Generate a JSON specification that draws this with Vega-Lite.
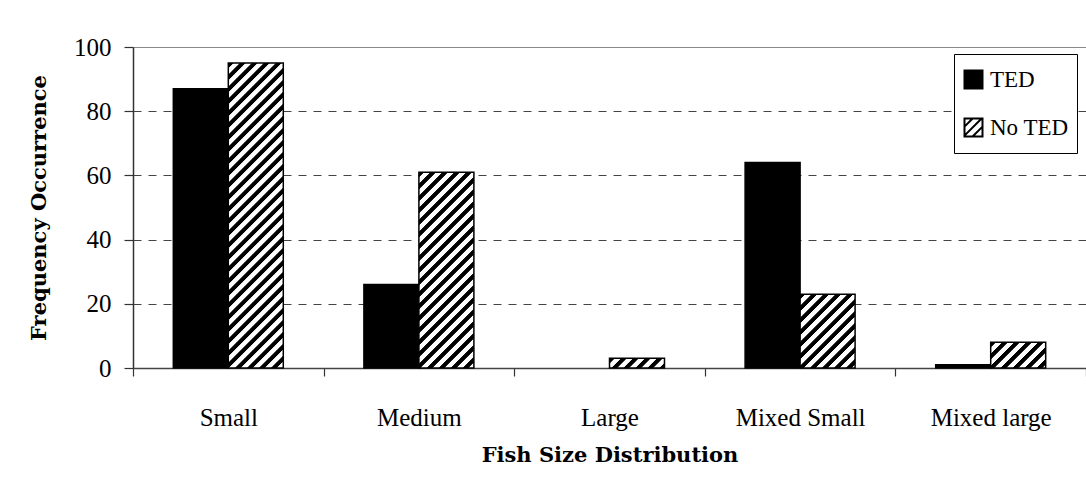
{
  "$schema": "https://vega.github.io/schema/vega-lite/v6.json",
  "width": 953,
  "height": 321,
  "autosize": {"type": "none"},
  "padding": {"left": 133, "top": 47, "right": 0, "bottom": 120},
  "background": "white",
  "config": {"view": {"stroke": null}, "font": "Liberation Serif"},
  "data": {
    "values": [
      {"size": "Small", "group": "TED", "count": 87},
      {"size": "Small", "group": "No TED", "count": 95},
      {"size": "Medium", "group": "TED", "count": 26},
      {"size": "Medium", "group": "No TED", "count": 61},
      {"size": "Large", "group": "TED", "count": 0},
      {"size": "Large", "group": "No TED", "count": 3},
      {"size": "Mixed Small", "group": "TED", "count": 64},
      {"size": "Mixed Small", "group": "No TED", "count": 23},
      {"size": "Mixed large", "group": "TED", "count": 1},
      {"size": "Mixed large", "group": "No TED", "count": 8}
    ]
  },
  "mark": {"type": "bar", "strokeWidth": 1.5},
  "encoding": {
    "x": {
      "field": "size",
      "type": "nominal",
      "sort": ["Small", "Medium", "Large", "Mixed Small", "Mixed large"],
      "scale": {"paddingInner": 0, "paddingOuter": 0},
      "axis": {
        "title": "Fish Size Distribution",
        "tickBand": "extent",
        "tickSize": 8,
        "tickColor": "#333",
        "tickWidth": 1.2,
        "domainColor": "#444",
        "domainWidth": 1.5,
        "labelAngle": 0,
        "labelFont": "Liberation Serif",
        "labelFontSize": 25,
        "labelColor": "#000",
        "labelPadding": 29,
        "titleFont": "DejaVu Serif",
        "titleFontSize": 21,
        "titleFontWeight": "bold",
        "titleColor": "#000",
        "titlePadding": 14
      }
    },
    "xOffset": {
      "field": "group",
      "type": "nominal",
      "sort": ["TED", "No TED"],
      "scale": {"paddingInner": 0, "paddingOuter": 0.733}
    },
    "y": {
      "field": "count",
      "type": "quantitative",
      "scale": {"domain": [0, 100]},
      "axis": {
        "title": "Frequency Occurrence",
        "values": [0, 20, 40, 60, 80, 100],
        "grid": true,
        "gridDash": {"condition": {"test": "datum.value === 100", "value": []}, "value": [8, 7]},
        "gridColor": {"condition": {"test": "datum.value === 100", "value": "#888"}, "value": "#444"},
        "gridWidth": 1,
        "domainColor": "#333",
        "domainWidth": 1.5,
        "tickColor": "#333",
        "tickSize": 9,
        "tickWidth": 1.2,
        "labelFont": "Liberation Serif",
        "labelFontSize": 25,
        "labelColor": "#000",
        "labelPadding": 13,
        "titleFont": "DejaVu Serif",
        "titleFontSize": 21,
        "titleFontWeight": "bold",
        "titleColor": "#000",
        "titlePadding": 24
      }
    },
    "stroke": {"condition": {"test": "datum.count === 0", "value": null}, "value": "#000"},
    "fill": {
      "condition": [
        {
          "test": "datum.group === 'No TED' && datum.size === 'Small'",
          "value": {"gradient": "linear", "x1": 0, "y1": 0, "x2": 0.27494, "y2": 1.52444, "stops": [
            {"offset": 0, "color": "#000"}, {"offset": 0.01, "color": "#000"}, {"offset": 0.012, "color": "#fff"}, {"offset": 0.023, "color": "#fff"},
            {"offset": 0.025, "color": "#000"}, {"offset": 0.035, "color": "#000"}, {"offset": 0.037, "color": "#fff"}, {"offset": 0.048, "color": "#fff"},
            {"offset": 0.05, "color": "#000"}, {"offset": 0.06, "color": "#000"}, {"offset": 0.062, "color": "#fff"}, {"offset": 0.073, "color": "#fff"},
            {"offset": 0.075, "color": "#000"}, {"offset": 0.085, "color": "#000"}, {"offset": 0.087, "color": "#fff"}, {"offset": 0.098, "color": "#fff"},
            {"offset": 0.1, "color": "#000"}, {"offset": 0.11, "color": "#000"}, {"offset": 0.112, "color": "#fff"}, {"offset": 0.123, "color": "#fff"},
            {"offset": 0.125, "color": "#000"}, {"offset": 0.135, "color": "#000"}, {"offset": 0.137, "color": "#fff"}, {"offset": 0.148, "color": "#fff"},
            {"offset": 0.15, "color": "#000"}, {"offset": 0.16, "color": "#000"}, {"offset": 0.162, "color": "#fff"}, {"offset": 0.173, "color": "#fff"},
            {"offset": 0.175, "color": "#000"}, {"offset": 0.185, "color": "#000"}, {"offset": 0.187, "color": "#fff"}, {"offset": 0.198, "color": "#fff"},
            {"offset": 0.2, "color": "#000"}, {"offset": 0.21, "color": "#000"}, {"offset": 0.212, "color": "#fff"}, {"offset": 0.223, "color": "#fff"},
            {"offset": 0.225, "color": "#000"}, {"offset": 0.235, "color": "#000"}, {"offset": 0.237, "color": "#fff"}, {"offset": 0.248, "color": "#fff"},
            {"offset": 0.25, "color": "#000"}, {"offset": 0.26, "color": "#000"}, {"offset": 0.262, "color": "#fff"}, {"offset": 0.273, "color": "#fff"},
            {"offset": 0.275, "color": "#000"}, {"offset": 0.285, "color": "#000"}, {"offset": 0.287, "color": "#fff"}, {"offset": 0.298, "color": "#fff"},
            {"offset": 0.3, "color": "#000"}, {"offset": 0.31, "color": "#000"}, {"offset": 0.312, "color": "#fff"}, {"offset": 0.323, "color": "#fff"},
            {"offset": 0.325, "color": "#000"}, {"offset": 0.335, "color": "#000"}, {"offset": 0.337, "color": "#fff"}, {"offset": 0.348, "color": "#fff"},
            {"offset": 0.35, "color": "#000"}, {"offset": 0.36, "color": "#000"}, {"offset": 0.362, "color": "#fff"}, {"offset": 0.373, "color": "#fff"},
            {"offset": 0.375, "color": "#000"}, {"offset": 0.385, "color": "#000"}, {"offset": 0.387, "color": "#fff"}, {"offset": 0.398, "color": "#fff"},
            {"offset": 0.4, "color": "#000"}, {"offset": 0.41, "color": "#000"}, {"offset": 0.412, "color": "#fff"}, {"offset": 0.423, "color": "#fff"},
            {"offset": 0.425, "color": "#000"}, {"offset": 0.435, "color": "#000"}, {"offset": 0.437, "color": "#fff"}, {"offset": 0.448, "color": "#fff"},
            {"offset": 0.45, "color": "#000"}, {"offset": 0.46, "color": "#000"}, {"offset": 0.462, "color": "#fff"}, {"offset": 0.473, "color": "#fff"},
            {"offset": 0.475, "color": "#000"}, {"offset": 0.485, "color": "#000"}, {"offset": 0.487, "color": "#fff"}, {"offset": 0.498, "color": "#fff"},
            {"offset": 0.5, "color": "#000"}, {"offset": 0.51, "color": "#000"}, {"offset": 0.512, "color": "#fff"}, {"offset": 0.523, "color": "#fff"},
            {"offset": 0.525, "color": "#000"}, {"offset": 0.535, "color": "#000"}, {"offset": 0.537, "color": "#fff"}, {"offset": 0.548, "color": "#fff"},
            {"offset": 0.55, "color": "#000"}, {"offset": 0.56, "color": "#000"}, {"offset": 0.562, "color": "#fff"}, {"offset": 0.573, "color": "#fff"},
            {"offset": 0.575, "color": "#000"}, {"offset": 0.585, "color": "#000"}, {"offset": 0.587, "color": "#fff"}, {"offset": 0.598, "color": "#fff"},
            {"offset": 0.6, "color": "#000"}, {"offset": 0.61, "color": "#000"}, {"offset": 0.612, "color": "#fff"}, {"offset": 0.623, "color": "#fff"},
            {"offset": 0.625, "color": "#000"}, {"offset": 0.635, "color": "#000"}, {"offset": 0.637, "color": "#fff"}, {"offset": 0.648, "color": "#fff"},
            {"offset": 0.65, "color": "#000"}, {"offset": 0.66, "color": "#000"}, {"offset": 0.662, "color": "#fff"}, {"offset": 0.673, "color": "#fff"},
            {"offset": 0.675, "color": "#000"}, {"offset": 0.685, "color": "#000"}, {"offset": 0.687, "color": "#fff"}, {"offset": 0.698, "color": "#fff"},
            {"offset": 0.7, "color": "#000"}, {"offset": 0.71, "color": "#000"}, {"offset": 0.712, "color": "#fff"}, {"offset": 0.723, "color": "#fff"},
            {"offset": 0.725, "color": "#000"}, {"offset": 0.735, "color": "#000"}, {"offset": 0.737, "color": "#fff"}, {"offset": 0.748, "color": "#fff"}
          ]}
        },
        {
          "test": "datum.group === 'No TED' && datum.size === 'Medium'",
          "value": {"gradient": "linear", "x1": 0, "y1": 0, "x2": 0.6382, "y2": 2.2721, "stops": [
            {"offset": 0, "color": "#000"}, {"offset": 0.01, "color": "#000"}, {"offset": 0.012, "color": "#fff"}, {"offset": 0.023, "color": "#fff"},
            {"offset": 0.025, "color": "#000"}, {"offset": 0.035, "color": "#000"}, {"offset": 0.037, "color": "#fff"}, {"offset": 0.048, "color": "#fff"},
            {"offset": 0.05, "color": "#000"}, {"offset": 0.06, "color": "#000"}, {"offset": 0.062, "color": "#fff"}, {"offset": 0.073, "color": "#fff"},
            {"offset": 0.075, "color": "#000"}, {"offset": 0.085, "color": "#000"}, {"offset": 0.087, "color": "#fff"}, {"offset": 0.098, "color": "#fff"},
            {"offset": 0.1, "color": "#000"}, {"offset": 0.11, "color": "#000"}, {"offset": 0.112, "color": "#fff"}, {"offset": 0.123, "color": "#fff"},
            {"offset": 0.125, "color": "#000"}, {"offset": 0.135, "color": "#000"}, {"offset": 0.137, "color": "#fff"}, {"offset": 0.148, "color": "#fff"},
            {"offset": 0.15, "color": "#000"}, {"offset": 0.16, "color": "#000"}, {"offset": 0.162, "color": "#fff"}, {"offset": 0.173, "color": "#fff"},
            {"offset": 0.175, "color": "#000"}, {"offset": 0.185, "color": "#000"}, {"offset": 0.187, "color": "#fff"}, {"offset": 0.198, "color": "#fff"},
            {"offset": 0.2, "color": "#000"}, {"offset": 0.21, "color": "#000"}, {"offset": 0.212, "color": "#fff"}, {"offset": 0.223, "color": "#fff"},
            {"offset": 0.225, "color": "#000"}, {"offset": 0.235, "color": "#000"}, {"offset": 0.237, "color": "#fff"}, {"offset": 0.248, "color": "#fff"},
            {"offset": 0.25, "color": "#000"}, {"offset": 0.26, "color": "#000"}, {"offset": 0.262, "color": "#fff"}, {"offset": 0.273, "color": "#fff"},
            {"offset": 0.275, "color": "#000"}, {"offset": 0.285, "color": "#000"}, {"offset": 0.287, "color": "#fff"}, {"offset": 0.298, "color": "#fff"},
            {"offset": 0.3, "color": "#000"}, {"offset": 0.31, "color": "#000"}, {"offset": 0.312, "color": "#fff"}, {"offset": 0.323, "color": "#fff"},
            {"offset": 0.325, "color": "#000"}, {"offset": 0.335, "color": "#000"}, {"offset": 0.337, "color": "#fff"}, {"offset": 0.348, "color": "#fff"},
            {"offset": 0.35, "color": "#000"}, {"offset": 0.36, "color": "#000"}, {"offset": 0.362, "color": "#fff"}, {"offset": 0.373, "color": "#fff"},
            {"offset": 0.375, "color": "#000"}, {"offset": 0.385, "color": "#000"}, {"offset": 0.387, "color": "#fff"}, {"offset": 0.398, "color": "#fff"},
            {"offset": 0.4, "color": "#000"}, {"offset": 0.41, "color": "#000"}, {"offset": 0.412, "color": "#fff"}, {"offset": 0.423, "color": "#fff"},
            {"offset": 0.425, "color": "#000"}, {"offset": 0.435, "color": "#000"}, {"offset": 0.437, "color": "#fff"}, {"offset": 0.448, "color": "#fff"},
            {"offset": 0.45, "color": "#000"}, {"offset": 0.46, "color": "#000"}, {"offset": 0.462, "color": "#fff"}, {"offset": 0.473, "color": "#fff"},
            {"offset": 0.475, "color": "#000"}, {"offset": 0.485, "color": "#000"}, {"offset": 0.487, "color": "#fff"}, {"offset": 0.498, "color": "#fff"},
            {"offset": 0.5, "color": "#000"}, {"offset": 0.51, "color": "#000"}, {"offset": 0.512, "color": "#fff"}, {"offset": 0.523, "color": "#fff"}
          ]}
        },
        {
          "test": "datum.group === 'No TED' && datum.size === 'Large'",
          "value": {"gradient": "linear", "x1": 0, "y1": 0, "x2": 8.4676, "y2": 1.48262, "stops": [
            {"offset": 0, "color": "#000"}, {"offset": 0.01, "color": "#000"}, {"offset": 0.012, "color": "#fff"}, {"offset": 0.023, "color": "#fff"},
            {"offset": 0.025, "color": "#000"}, {"offset": 0.035, "color": "#000"}, {"offset": 0.037, "color": "#fff"}, {"offset": 0.048, "color": "#fff"},
            {"offset": 0.05, "color": "#000"}, {"offset": 0.06, "color": "#000"}, {"offset": 0.062, "color": "#fff"}, {"offset": 0.073, "color": "#fff"},
            {"offset": 0.075, "color": "#000"}, {"offset": 0.085, "color": "#000"}, {"offset": 0.087, "color": "#fff"}, {"offset": 0.098, "color": "#fff"},
            {"offset": 0.1, "color": "#000"}, {"offset": 0.11, "color": "#000"}, {"offset": 0.112, "color": "#fff"}, {"offset": 0.123, "color": "#fff"},
            {"offset": 0.125, "color": "#000"}, {"offset": 0.135, "color": "#000"}, {"offset": 0.137, "color": "#fff"}, {"offset": 0.148, "color": "#fff"}
          ]}
        },
        {
          "test": "datum.group === 'No TED' && datum.size === 'Mixed Small'",
          "value": {"gradient": "linear", "x1": 0, "y1": 0, "x2": 3.11473, "y2": 4.1811, "stops": [
            {"offset": 0, "color": "#000"}, {"offset": 0.01, "color": "#000"}, {"offset": 0.012, "color": "#fff"}, {"offset": 0.023, "color": "#fff"},
            {"offset": 0.025, "color": "#000"}, {"offset": 0.035, "color": "#000"}, {"offset": 0.037, "color": "#fff"}, {"offset": 0.048, "color": "#fff"},
            {"offset": 0.05, "color": "#000"}, {"offset": 0.06, "color": "#000"}, {"offset": 0.062, "color": "#fff"}, {"offset": 0.073, "color": "#fff"},
            {"offset": 0.075, "color": "#000"}, {"offset": 0.085, "color": "#000"}, {"offset": 0.087, "color": "#fff"}, {"offset": 0.098, "color": "#fff"},
            {"offset": 0.1, "color": "#000"}, {"offset": 0.11, "color": "#000"}, {"offset": 0.112, "color": "#fff"}, {"offset": 0.123, "color": "#fff"},
            {"offset": 0.125, "color": "#000"}, {"offset": 0.135, "color": "#000"}, {"offset": 0.137, "color": "#fff"}, {"offset": 0.148, "color": "#fff"},
            {"offset": 0.15, "color": "#000"}, {"offset": 0.16, "color": "#000"}, {"offset": 0.162, "color": "#fff"}, {"offset": 0.173, "color": "#fff"},
            {"offset": 0.175, "color": "#000"}, {"offset": 0.185, "color": "#000"}, {"offset": 0.187, "color": "#fff"}, {"offset": 0.198, "color": "#fff"},
            {"offset": 0.2, "color": "#000"}, {"offset": 0.21, "color": "#000"}, {"offset": 0.212, "color": "#fff"}, {"offset": 0.223, "color": "#fff"},
            {"offset": 0.225, "color": "#000"}, {"offset": 0.235, "color": "#000"}, {"offset": 0.237, "color": "#fff"}, {"offset": 0.248, "color": "#fff"},
            {"offset": 0.25, "color": "#000"}, {"offset": 0.26, "color": "#000"}, {"offset": 0.262, "color": "#fff"}, {"offset": 0.273, "color": "#fff"}
          ]}
        },
        {
          "test": "datum.group === 'No TED' && datum.size === 'Mixed large'",
          "value": {"gradient": "linear", "x1": 0, "y1": 0, "x2": 7.16523, "y2": 3.34549, "stops": [
            {"offset": 0, "color": "#000"}, {"offset": 0.01, "color": "#000"}, {"offset": 0.012, "color": "#fff"}, {"offset": 0.023, "color": "#fff"},
            {"offset": 0.025, "color": "#000"}, {"offset": 0.035, "color": "#000"}, {"offset": 0.037, "color": "#fff"}, {"offset": 0.048, "color": "#fff"},
            {"offset": 0.05, "color": "#000"}, {"offset": 0.06, "color": "#000"}, {"offset": 0.062, "color": "#fff"}, {"offset": 0.073, "color": "#fff"},
            {"offset": 0.075, "color": "#000"}, {"offset": 0.085, "color": "#000"}, {"offset": 0.087, "color": "#fff"}, {"offset": 0.098, "color": "#fff"},
            {"offset": 0.1, "color": "#000"}, {"offset": 0.11, "color": "#000"}, {"offset": 0.112, "color": "#fff"}, {"offset": 0.123, "color": "#fff"},
            {"offset": 0.125, "color": "#000"}, {"offset": 0.135, "color": "#000"}, {"offset": 0.137, "color": "#fff"}, {"offset": 0.148, "color": "#fff"},
            {"offset": 0.15, "color": "#000"}, {"offset": 0.16, "color": "#000"}, {"offset": 0.162, "color": "#fff"}, {"offset": 0.173, "color": "#fff"}
          ]}
        }
      ],
      "field": "group",
      "type": "nominal",
      "scale": {"domain": ["TED", "No TED"], "range": ["#000000", "#ffffff"]},
      "legend": {
        "orient": "none",
        "legendX": 821,
        "legendY": 7,
        "title": null,
        "direction": "vertical",
        "strokeColor": "#000",
        "fillColor": "#fff",
        "padding": 8,
        "symbolType": "M-1,-1H1V1H-1Z M-1,-0.1L-0.1,-1 M-1,0.9L0.9,-1 M-0.1,1L1,-0.1",
        "symbolSize": 324,
        "symbolStrokeColor": "#000",
        "symbolStrokeWidth": 2,
        "symbolOpacity": 1,
        "labelFont": "Liberation Serif",
        "labelFontSize": 23,
        "labelColor": "#000",
        "labelOffset": 5,
        "rowPadding": 13,
        "clipHeight": 35
      }
    }
  }
}
